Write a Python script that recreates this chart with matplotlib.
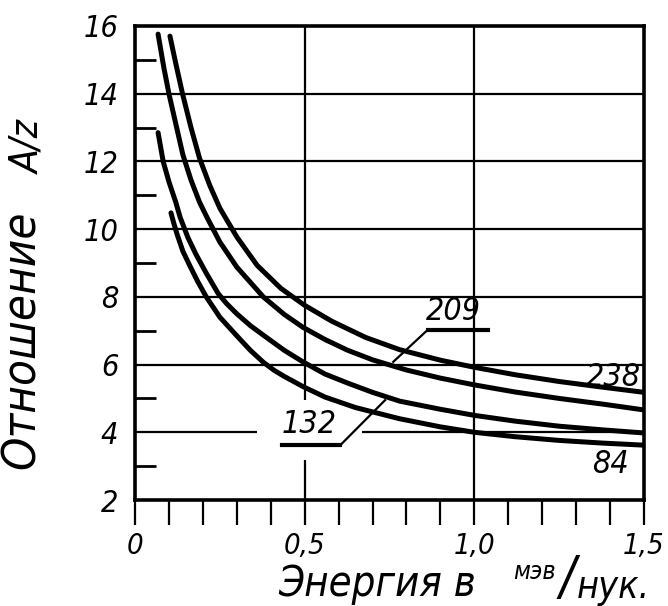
import matplotlib
matplotlib.use("Agg")
import matplotlib.pyplot as plt

plt.rcParams['font.family'] = ['DejaVu Sans']
plt.rcParams['font.style'] = 'italic'
plt.rcParams['font.stretch'] = 'condensed'

# energy (MeV/nucleon) vs A/Z ratio
x238 = [0.103, 0.12, 0.14, 0.165, 0.19, 0.22, 0.25, 0.30, 0.36, 0.43, 0.50, 0.58, 0.68, 0.78, 0.90, 1.0, 1.12, 1.25, 1.38, 1.5]
y238 = [15.7, 14.9, 14.0, 13.0, 12.1, 11.3, 10.62, 9.77, 8.93, 8.25, 7.75, 7.28, 6.8, 6.44, 6.13, 5.92, 5.7, 5.5, 5.33, 5.18]

x209 = [0.068, 0.085, 0.10, 0.12, 0.141, 0.165, 0.19, 0.212, 0.25, 0.30, 0.378, 0.44, 0.495, 0.56, 0.625, 0.70, 0.80, 0.90, 1.0, 1.12, 1.25, 1.38, 1.5]
y209 = [15.76, 14.77, 14.0, 13.12, 12.2, 11.45, 10.8, 10.35, 9.62, 8.88, 8.0, 7.48, 7.1, 6.74, 6.43, 6.14, 5.84, 5.6, 5.4, 5.19, 5.0, 4.83, 4.66]

x132 = [0.068, 0.083, 0.10, 0.12, 0.133, 0.156, 0.18, 0.21, 0.245, 0.27, 0.30, 0.34, 0.378, 0.44, 0.495, 0.56, 0.625, 0.70, 0.78, 0.90, 1.0, 1.12, 1.25, 1.38, 1.5]
y132 = [12.85, 12.0, 11.4, 10.8, 10.35, 9.75, 9.25, 8.7, 8.1, 7.8, 7.5, 7.15, 6.87, 6.42, 6.08, 5.72, 5.46, 5.18, 4.92, 4.68, 4.5, 4.33, 4.18, 4.07, 3.98]

x84 = [0.106, 0.115, 0.124, 0.141, 0.16, 0.185, 0.21, 0.25, 0.30, 0.34, 0.378, 0.41, 0.44, 0.495, 0.56, 0.65, 0.78, 0.90, 1.0, 1.12, 1.25, 1.38, 1.5]
y84 = [10.48, 10.15, 9.85, 9.35, 8.95, 8.45, 8.0, 7.4, 6.85, 6.42, 6.07, 5.83, 5.65, 5.35, 5.04, 4.73, 4.4, 4.16, 4.0, 3.87, 3.76, 3.68, 3.62]

xticks = [0, 0.5, 1.0, 1.5]
xticklabels = ['0', '0,5', '1,0', '1,5']
yticks = [2, 4, 6, 8, 10, 12, 14, 16]

fig = plt.figure(figsize=(6.68, 6.06), dpi=100)
ax = fig.add_axes([0.2021, 0.1749, 0.762, 0.7822])
ax.set_xlim(0, 1.5)
ax.set_ylim(2, 16)

lw = 3.6
for xs, ys in [(x238, y238), (x209, y209), (x132, y132), (x84, y84)]:
    ax.plot(xs, ys, color='black', lw=lw, solid_capstyle='round', solid_joinstyle='round')

# grid, drawn by hand because of the gaps left for the "132" label
g = dict(color='black', lw=1.6)
for yv in [6, 8, 10, 12, 14]:
    ax.axhline(yv, **g)
ax.hlines(4, 0, 0.36, **g)
ax.hlines(4, 0.67, 1.5, **g)
ax.vlines(1.0, 2, 16, **g)
ax.vlines(0.5, 2, 3.18, **g)
ax.vlines(0.5, 4.95, 16, **g)

for s in ax.spines.values():
    s.set_linewidth(2.6)

ax.set_xticks(xticks)
ax.set_xticklabels(xticklabels)
ax.set_xticks([i / 10 for i in range(16)], minor=True)
ax.tick_params(axis='x', which='both', direction='out', length=18, width=1.6, labelsize=21, pad=5)
for t in ax.get_xticklabels():
    t.set_x(t.get_position()[0])

ax.set_yticks(yticks)
ax.set_yticklabels([str(v) for v in yticks])
ax.set_yticks([3, 5, 7, 9, 11, 13, 15], minor=True)
ax.tick_params(axis='y', which='major', length=0, labelsize=22, pad=12)
ax.tick_params(axis='y', which='minor', direction='in', length=15, width=2.0)

# curve labels
lab = dict(fontsize=23, ha='center', va='center')
ax.text(1.41, 5.63, '238', **lab)
ax.text(1.40, 3.06, '84', **lab)
ax.text(0.938, 7.58, '209', **lab)
ax.text(0.513, 4.24, '132', **lab)
ax.plot([0.862, 1.04], [7.02, 7.02], color='black', lw=3.0)
ax.plot([0.862, 0.761], [7.02, 6.08], color='black', lw=1.6)
ax.plot([0.434, 0.605], [3.62, 3.62], color='black', lw=3.0)
ax.plot([0.605, 0.737], [3.62, 4.95], color='black', lw=1.6)

# axis titles
fig.text(0.416, 0.037, 'Энергия в', fontsize=30, ha='left', va='center')
fig.text(0.768, 0.056, 'мэв', fontsize=18, ha='left', va='center')
fig.text(0.849, 0.045, '/', fontsize=38, ha='center', va='center')
fig.text(0.864, 0.030, 'нук.', fontsize=27, ha='left', va='center')
fig.text(0.034, 0.439, 'Отношение', fontsize=34, rotation=90, ha='center', va='center')
fig.text(0.042, 0.757, 'A/z', fontsize=28, rotation=90, ha='center', va='center')

fig.savefig('out.png', dpi=100)
